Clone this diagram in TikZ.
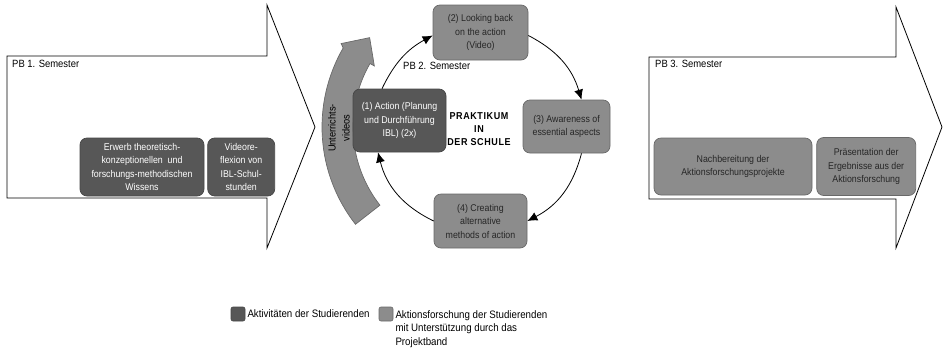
\documentclass[tikz,border=0pt]{standalone}
\usepackage{fontspec}
\setmainfont{Liberation Sans}[FakeStretch=0.9]
\usetikzlibrary{
	positioning
	,arrows.meta
}
\definecolor{actgray}{HTML}{575757}
\definecolor{afgray}{HTML}{8C8C8C}
\tikzset{
	big arrow/.style={
		draw=black
		,fill=white
		,line width=0.8pt
	}
	,sem label/.style={
		anchor=base west
		,inner sep=0pt
		,font=\fontsize{10.5}{12}\selectfont
	}
}
\tikzset{box/.style={
	rounded corners=7pt,
	align=center,
	inner sep=1pt,
	font=\fontsize{9.8}{13.5}\selectfont,
	line width=0.7pt,
}}
\tikzset{
	dark box/.style={box, fill=actgray, draw=actgray!80!black, text=white}
	,light box/.style={box, fill=afgray, draw=afgray!75!black, text=black!85}
	,cyc/.style={-{Latex[length=10pt,width=9pt]}, line width=0.8pt}
	,legend sq/.style={minimum size=14pt, inner sep=0pt, rounded corners=2pt, line width=0.6pt}
	,legend txt/.style={inner sep=0pt, align=left, font=\fontsize{10.8}{13.5}\selectfont}
}

\begin{document}
\begin{tikzpicture}[x=1pt, y=1pt]
\useasboundingbox (0,0) rectangle (943,-349);
% semester arrows
\draw[big arrow] (7,-56) -- (267,-56) -- (267,-5) -- (315,-127) -- (267,-248) -- (267,-198) -- (7,-198) -- cycle;
\draw[big arrow] (649,-57) -- (896,-57) -- (896,-7) -- (942,-127) -- (896,-248) -- (896,-199) -- (649,-199) -- cycle;
\node[sem label] (pb1) at (12,-67.5) {PB 1. Semester};
\node[sem label] (pb3) at (655,-67.5) {PB 3. Semester};
% curved video arrow
\begin{scope}[shift={(480,-127)}]
\draw[fill=afgray, draw=afgray!75!black, line width=0.7pt]
	(218:158) arc[start angle=218, end angle=150, radius=158]
	-- (149:162) -- (141:142) -- (150:122) -- (150:127)
	arc[start angle=150, end angle=218, radius=127] -- cycle;
\end{scope}
\node[rotate=90, align=center, inner sep=0pt, font=\fontsize{10.3}{14}\selectfont] (vid) at (339,-128) {Unterrichts-\\videos};
% boxes
\node[dark box, minimum width=124, minimum height=58] (erwerb) at (142,-167)
	{Erwerb theoretisch-\\konzeptionellen\ \ und\\forschungs-methodischen\\Wissens};
\node[dark box, minimum width=67, minimum height=58, right=3 of erwerb] (refl)
	{Videore-\\flexion von\\IBL-Schul-\\stunden};
\node[dark box, minimum width=93, minimum height=63] (act) at (399.5,-120.5)
	{(1) Action (Planung\\und Durchführung\\IBL) (2x)};
\node[light box, minimum width=95, minimum height=55] (look) at (480.5,-32.5)
	{(2) Looking back\\on the action\\(Video)};
\node[light box, minimum width=87, minimum height=53] (aware) at (566.5,-126.5)
	{(3) Awareness of\\essential aspects};
\node[light box, minimum width=93, minimum height=54] (create) at (480.5,-221)
	{(4) Creating\\alternative\\methods of action};
\node[light box, minimum width=158, minimum height=57] (nach) at (733,-166.5)
	{Nachbereitung der\\Aktionsforschungsprojekte};
\node[light box, minimum width=99, minimum height=58, right=4 of nach] (praes)
	{Präsentation der\\Ergebnisse aus der\\Aktionsforschung};
% cycle
\draw[cyc] ([xshift=-17.5]act.north) to[bend left=18] ([yshift=-3]look.west);
\draw[cyc] ([yshift=-3]look.east) to[bend left=23] ([xshift=15]aware.north);
\draw[cyc] ([xshift=15]aware.south) to[bend left=24] (create.east);
\draw[cyc] (create.west) to[bend left=25] ([xshift=-21.5]act.south);
\node[sem label] (pb2) at (403,-69.5) {PB 2. Semester};
\node[align=center, inner sep=0pt, font=\fontsize{10}{13}\bfseries\addfontfeature{LetterSpace=6}] (prak) at (479,-129)
	{PRAKTIKUM\\IN\\DER SCHULE};
% legend
\node[legend sq, fill=actgray, draw=actgray!80!black] (lgact) at (238,-314) {};
\node[legend txt, right=2 of lgact] (lgacttxt) {Aktivitäten der Studierenden};
\node[legend sq, fill=afgray, draw=afgray!75!black] (lgaf) at (386,-314) {};
\node[legend txt, anchor=north west] (lgaftxt) at ([xshift=2, yshift=-3.5]lgaf.north east)
	{Aktionsforschung der Studierenden\\mit Unterstützung durch das\\Projektband};
\end{tikzpicture}
\end{document}
